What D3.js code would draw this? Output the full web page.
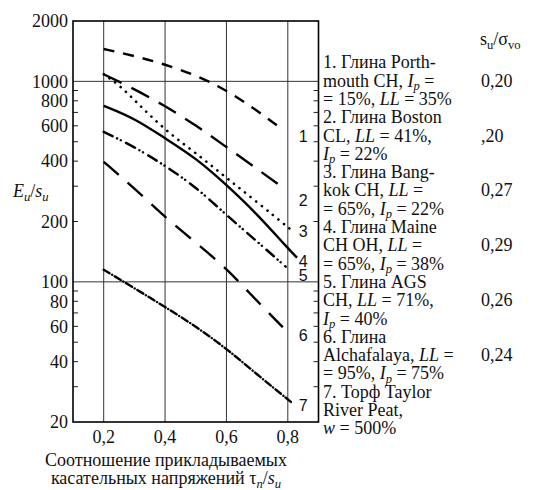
<!DOCTYPE html>
<html>
<head>
<meta charset="utf-8">
<style>
  body { margin: 0; background: #fff; }
  svg { display: block; }
  svg text { font-family: "Liberation Serif", "Times New Roman", Times, "DejaVu Serif", serif; fill: #111; }
  svg text.curve-id { font-family: "Liberation Sans", Arial, sans-serif; font-size: 16px; }
  .tick-label { font-size: 18px; }
  .legend text { font-size: 18px; }
</style>
</head>
<body>
<svg width="536" height="490"></svg>
<script src="https://d3js.org/d3.v7.min.js"></script>
<script>
// axes
var xTicks = [0.2, 0.4, 0.6, 0.8];
var xTickLabels = ["0,2", "0,4", "0,6", "0,8"];
var yLabels = [2000, 1000, 800, 600, 400, 200, 100, 80, 60, 40, 20];
var yMinor = [30, 40, 50, 60, 70, 80, 90, 200, 300, 400, 500, 600, 700, 800, 900];
var yGrid = [100, 1000];

// curves: tau/su -> Eu/su
var x1 = [0.2, 0.3, 0.4, 0.5, 0.6, 0.7, 0.783];
var y1 = [1450, 1340, 1215, 1075, 905, 715, 575];
var x2 = [0.2, 0.3, 0.4, 0.5, 0.6, 0.7, 0.78];
var y2 = [1085, 916, 754, 605, 470, 366, 298];
var x3 = [0.2, 0.25, 0.3, 0.4, 0.5, 0.6, 0.7, 0.81];
var y3 = [1085, 960, 807, 570, 440, 330, 250, 182];
var x4 = [0.2, 0.3, 0.4, 0.5, 0.6, 0.7, 0.8, 0.83];
var y4 = [755, 655, 520, 415, 305, 218, 147, 132];
var x5 = [0.2, 0.3, 0.4, 0.5, 0.6, 0.7, 0.793];
var y5 = [560, 472, 380, 298, 215, 159, 119];
var x6 = [0.2, 0.3, 0.4, 0.5, 0.6, 0.7, 0.8];
var y6 = [397, 293, 210, 157, 117, 80, 56];
var x7 = [0.2, 0.3, 0.4, 0.5, 0.6, 0.7, 0.81];
var y7 = [115, 93, 75, 60, 46.5, 34.5, 25.2];

var curveIds = ["1", "2", "3", "4", "5", "6", "7"];
var curveLabelY = [530, 256, 178, 126, 108, 54, 24.3];

// legend (markup: *italic*, ~italic subscript~, ^subscript^)
var legendLines = [
  "1. Глина Porth-",
  "mouth CH, *I*~p~ =",
  "= 15%, *LL* = 35%",
  "2. Глина Boston",
  "CL, *LL* = 41%,",
  "*I*~p~ = 22%",
  "3. Глина Bang-",
  "kok CH, *LL* =",
  "= 65%, *I*~p~ = 22%",
  "4. Глина Maine",
  "CH OH, *LL* =",
  "= 65%, *I*~p~ = 38%",
  "5. Глина AGS",
  "CH, *LL* = 71%,",
  "*I*~p~ = 40%",
  "6. Глина",
  "Alchafalaya, *LL* =",
  "= 95%, *I*~p~ = 75%",
  "7. Торф Taylor",
  "River Peat,",
  "*w* = 500%"
];
var ratioHeader = "s^u^/σ^vo^";
var ratioValues = ["0,20", ",20", "0,27", "0,29", "0,26", "0,24"];
var ratioLine = [1, 4, 7, 10, 13, 16];

var dashes = ["11,9", "20,11", "0.1,7", null, "10,5,0.1,4,0.1,6", "20,12", "7,3,0.1,3"];

var svg = d3.select("svg");
var x = d3.scaleLinear().domain([0.1, 0.9]).range([73, 318.5]);
var y = d3.scaleLog().domain([20, 2000]).range([422, 21]);

function rich(sel, str) {
  var parts = str.split(/(\*[^*]+\*|~[^~]+~|\^[^^]+\^)/).filter(function(s) { return s.length; });
  var shifted = false;
  parts.forEach(function(p) {
    var t = sel.append("tspan");
    var dy = 0;
    if (p[0] === "~" || p[0] === "^") {
      t.text(p.slice(1, -1)).attr("font-size", "0.7em");
      if (p[0] === "~") t.attr("font-style", "italic");
      if (!shifted) { dy = 3.5; shifted = true; }
    } else {
      if (p[0] === "*") { t.text(p.slice(1, -1)).attr("font-style", "italic"); }
      else t.text(p);
      if (shifted) { dy = -3.5; shifted = false; }
    }
    if (dy) t.attr("dy", dy);
  });
}

// grid
svg.append("g").selectAll("line").data(xTicks).join("line")
  .attr("x1", d => x(d)).attr("x2", d => x(d))
  .attr("y1", y(2000)).attr("y2", y(20))
  .attr("stroke", "#333").attr("stroke-width", 1);
svg.append("g").selectAll("line").data(yGrid).join("line")
  .attr("x1", x(0.1)).attr("x2", x(0.9))
  .attr("y1", d => y(d)).attr("y2", d => y(d))
  .attr("stroke", "#333").attr("stroke-width", 1);

// minor ticks on both sides, pointing inward
var ticks = svg.append("g").attr("stroke", "#222").attr("stroke-width", 1);
ticks.selectAll(".l").data(yMinor).join("line").attr("class", "l")
  .attr("x1", x(0.1)).attr("x2", x(0.1) + 5)
  .attr("y1", d => y(d)).attr("y2", d => y(d));
ticks.selectAll(".r").data(yMinor).join("line").attr("class", "r")
  .attr("x1", x(0.9) - 5).attr("x2", x(0.9))
  .attr("y1", d => y(d)).attr("y2", d => y(d));

// frame
svg.append("rect")
  .attr("x", x(0.1)).attr("y", y(2000))
  .attr("width", x(0.9) - x(0.1)).attr("height", y(20) - y(2000))
  .attr("fill", "none").attr("stroke", "#000").attr("stroke-width", 1.6);

// tick labels
svg.append("g").selectAll("text").data(yLabels).join("text")
  .attr("class", "tick-label")
  .attr("x", 68).attr("y", d => y(d)).attr("dy", "0.35em")
  .attr("text-anchor", "end").text(d => d);
svg.append("g").selectAll("text").data(xTicks).join("text")
  .attr("class", "tick-label")
  .attr("x", d => x(d)).attr("y", 443)
  .attr("text-anchor", "middle").text((d, i) => xTickLabels[i]);

// axis titles
rich(svg.append("text").attr("class", "tick-label").attr("x", 13).attr("y", 197), "*E*~u~/*s*~u~");
svg.append("text").attr("x", 166).attr("y", 466)
  .attr("text-anchor", "middle").attr("font-size", "18px").text("Соотношение прикладываемых");
rich(svg.append("text").attr("x", 166).attr("y", 484)
  .attr("text-anchor", "middle").attr("font-size", "18px"), "касательных напряжений τ~n~/*s*~u~");

// curves
var xs = [x1, x2, x3, x4, x5, x6, x7];
var ys = [y1, y2, y3, y4, y5, y6, y7];
var line = d3.line().x(d => x(d[0])).y(d => y(d[1])).curve(d3.curveBasis);
xs.forEach(function(xv, i) {
  var pts = xv.map((v, j) => [v, ys[i][j]]);
  svg.append("path").datum(pts)
    .attr("d", line)
    .attr("fill", "none").attr("stroke", "#000")
    .attr("stroke-width", i === 2 ? 2.6 : 2.4)
    .attr("stroke-linecap", i === 2 || i === 4 || i === 6 ? "round" : "butt")
    .attr("stroke-dasharray", dashes[i]);
});

svg.append("g").selectAll("text").data(curveIds).join("text")
  .attr("class", "curve-id")
  .attr("x", x(0.85)).attr("y", (d, i) => y(curveLabelY[i])).attr("dy", "0.36em")
  .attr("text-anchor", "middle").text(d => d);

// legend
var lg = svg.append("g").attr("class", "legend");
legendLines.forEach(function(s, i) {
  rich(lg.append("text").attr("x", 323).attr("y", 68.3 + 18.3 * i), s);
});
rich(lg.append("text").attr("x", 480).attr("y", 45), ratioHeader);
ratioValues.forEach(function(v, i) {
  lg.append("text").attr("x", 481).attr("y", 68.3 + 18.3 * ratioLine[i]).text(v);
});
</script>
</body>
</html>
